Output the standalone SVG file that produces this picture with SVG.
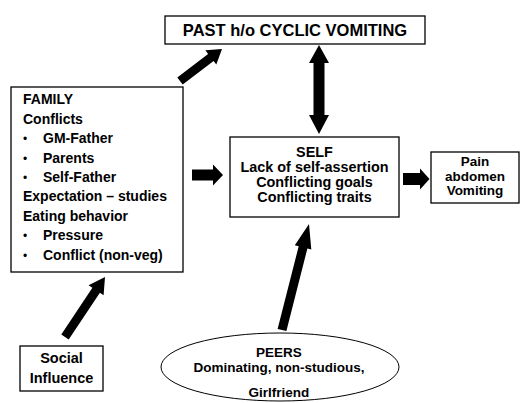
<svg xmlns="http://www.w3.org/2000/svg" width="522" height="403" viewBox="0 0 522 403">
<style>
.box{fill:#fff;stroke:#000;stroke-width:1.3}
.t{font-family:"Liberation Sans",Arial,sans-serif;font-weight:bold;fill:#000}
.c{text-anchor:middle}
.b{font-weight:normal;font-size:12px}
.arr{fill:#000;stroke:none}
</style>
<rect width="522" height="403" fill="#fff"/>
<g id="past">
<rect class="box" x="165" y="16" width="260" height="28"/>
<text class="t c" x="295" y="36" font-size="16.5">PAST h/o CYCLIC VOMITING</text>
</g>
<g id="family">
<rect class="box" x="11" y="87" width="172" height="185"/>
<g class="t" font-size="14">
<text x="23" y="104.3">FAMILY</text>
<text x="23" y="123.7">Conflicts</text>
<text class="b" x="23" y="143.2">•</text><text x="43" y="143.2">GM-Father</text>
<text class="b" x="23" y="162.6">•</text><text x="43" y="162.6">Parents</text>
<text class="b" x="23" y="182">•</text><text x="43" y="182">Self-Father</text>
<text x="23" y="201.4">Expectation – studies</text>
<text x="23" y="220.9">Eating behavior</text>
<text class="b" x="23" y="240.3">•</text><text x="43" y="240.3">Pressure</text>
<text class="b" x="23" y="259.8">•</text><text x="43" y="259.8">Conflict (non-veg)</text>
</g>
</g>
<g id="self">
<rect class="box" x="230" y="137" width="169" height="80"/>
<g class="t c" font-size="14.4">
<text x="314.5" y="156.5">SELF</text>
<text x="314.5" y="171.5">Lack of self-assertion</text>
<text x="314.5" y="186.5">Conflicting goals</text>
<text x="314.5" y="201.5">Conflicting traits</text>
</g>
</g>
<g id="pain">
<rect class="box" x="431" y="152" width="88" height="51"/>
<g class="t c" font-size="13.5">
<text x="475" y="166">Pain</text>
<text x="475" y="180.5">abdomen</text>
<text x="475" y="195">Vomiting</text>
</g>
</g>
<g id="social">
<rect class="box" x="20" y="346" width="83" height="45"/>
<g class="t c" font-size="14.5">
<text x="61.5" y="363.3">Social</text>
<text x="61.5" y="382.7">Influence</text>
</g>
</g>
<g id="peers">
<ellipse cx="280" cy="367" rx="119" ry="34" fill="#fff" stroke="#000" stroke-width="1"/>
<g class="t c" font-size="13.5">
<text x="279" y="357.3">PEERS</text>
<text x="279" y="371.7">Dominating, non-studious,</text>
<text x="279" y="396.7">Girlfriend</text>
</g>
</g>
<g id="connectors">
<polygon class="arr" points="182.7,84.6 213.6,61.1 216.3,64.6 222,49 205.4,50.3 208.1,53.9 177.3,77.4"/>
<polygon class="arr" points="319,45 329,63 324.5,63 324.5,115 329,115 319,134 309,115 313.5,115 313.5,63 309,63"/>
<polygon class="arr" points="192,169.5 213,169.5 213,164.5 223,175 213,185.5 213,180.5 192,180.5"/>
<polygon class="arr" points="403,173 420,173 420,168.5 429.5,179 420,189.5 420,185 403,185"/>
<polygon class="arr" points="68.7,339.5 99.9,292.8 103.6,295.3 105,277 88.6,285.3 92.4,287.8 61.3,334.5"/>
<polygon class="arr" points="286.4,331.1 307.4,248.4 311.3,249.4 309,224 294.8,245.2 298.7,246.2 277.6,328.9"/>
</g>
</svg>
